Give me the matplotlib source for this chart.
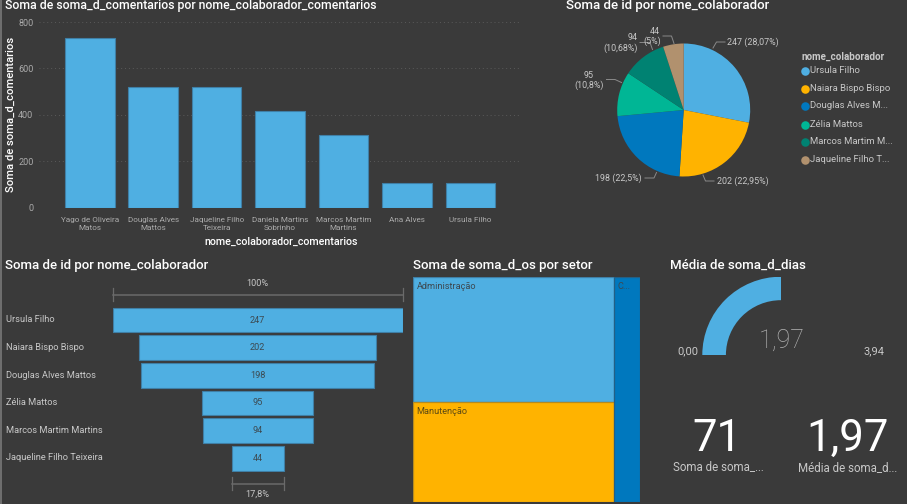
#!/usr/bin/env python3
"""Dashboard escuro: colaboradores, comentarios, setores e dias."""

import matplotlib
matplotlib.use("Agg")
import matplotlib.pyplot as plt
from matplotlib.patches import Rectangle, Wedge

W, H = 907, 504
BG = "#3a3a3a"
BLUE = "#4fafe2"
EDGE = "#3f7fa6"
ORANGE = "#ffb300"
DBLUE = "#0078be"
TEAL = "#00b695"
DTEAL = "#008272"
TAN = "#b1916e"
TXT = "#c8c8c8"
AXT = "#ababab"
LEAD = "#8a8a8a"

# bar chart
coment_names = ["Yago de Oliveira\nMatos", "Douglas Alves\nMattos", "Jaqueline Filho\nTeixeira",
                "Daniela Martins\nSobrinho", "Marcos Martim\nMartins", "Ana Alves", "Ursula Filho"]
coment_values = [729, 520, 520, 415, 312, 104, 104]
coment_ticks = [0, 200, 400, 600, 800]

# pie and funnel
colab_names = ["Ursula Filho", "Naiara Bispo Bispo", "Douglas Alves Mattos",
               "Zélia Mattos", "Marcos Martim Martins", "Jaqueline Filho Teixeira"]
legend_names = ["Ursula Filho", "Naiara Bispo Bispo", "Douglas Alves M...",
                "Zélia Mattos", "Marcos Martim M...", "Jaqueline Filho T..."]
colab_ids = [247, 202, 198, 95, 94, 44]

# treemap
setor_names = ["Administração", "Manutenção", "C..."]
setor_values = [35, 28, 8]

# gauge and cards
gauge_value = 1.97
gauge_max = 3.94
total_os = 71

plt.rcParams["font.family"] = ["Roboto", "DejaVu Sans"]
fig = plt.figure(figsize=(W / 100, H / 100), dpi=100, facecolor=BG)


def px_axes(left, top, right, bottom):
    a = fig.add_axes([left / W, 1 - bottom / H, (right - left) / W, (bottom - top) / H])
    a.set_facecolor("none")
    return a


# overlay in pixel coords for titles, labels and leader lines
ov = px_axes(0, 0, W, H)
ov.set_xlim(0, W)
ov.set_ylim(H, 0)
ov.axis("off")
ov.set_zorder(5)
ov.add_patch(Rectangle((0, 0), 2, H, facecolor="#6e6e6e", edgecolor="none"))

TITLE = dict(color="white", fontsize=9.5, fontweight="medium", va="center", ha="left")
ov.text(5, 5, "Soma de soma_d_comentarios por nome_colaborador_comentarios",
        color="white", fontsize=8.8, fontweight="medium", va="center", ha="left")
ov.text(566, 5.5, "Soma de id por nome_colaborador", **TITLE)
ov.text(5, 265, "Soma de id por nome_colaborador", **TITLE)
ov.text(413, 265, "Soma de soma_d_os por setor", **TITLE)
ov.text(669.5, 265, "Média de soma_d_dias", **TITLE)

# ── Bars ──
ax = px_axes(39, 22, 520, 207.5)
ax.bar(range(len(coment_values)), coment_values, width=0.78, color=BLUE, edgecolor=EDGE, linewidth=0.8)
ax.set_xlim(-0.8, 6.78)
ax.set_ylim(0, 800)
ax.set_yticks(coment_ticks)
ax.set_xticks(range(len(coment_names)), coment_names)
ax.tick_params(length=0, colors=AXT, labelsize=6.5, pad=4)
ax.tick_params(axis="x", pad=6.5, labelsize=5.9)
for lab in ax.get_xticklabels():
    lab.set_linespacing(1.55)
ax.grid(axis="y", color="#5a5a5a", linestyle=(0, (1, 3)), linewidth=0.7)
ax.set_axisbelow(True)
for s in ax.spines.values():
    s.set_visible(False)
ax.set_ylabel("Soma de soma_d_comentarios", color="white", fontsize=8.1, fontweight="medium", va="center")
ax.yaxis.set_label_coords(-0.058, 0.5)
ax.set_xlabel("nome_colaborador_comentarios", color="white", fontsize=7.7, fontweight="medium")
ax.xaxis.set_label_coords(0.503, -0.186)
ax.xaxis.label.set_va("center")

# ── Pie ──
axp = px_axes(683.7 - 66.5, 110 - 66.5, 683.7 + 66.5, 110 + 66.5)
axp.pie(colab_ids, colors=[BLUE, ORANGE, DBLUE, TEAL, DTEAL, TAN], startangle=90, counterclock=False,
        radius=1.0)
axp.set_xlim(-1, 1)
axp.set_ylim(-1, 1)

LBL = dict(color=TXT, fontsize=6.4, va="center")
leaders = [
    [(713, 48), (716.5, 42), (725, 42)],
    [(703, 175), (705.5, 181), (714, 181)],
    [(656.5, 172.5), (654, 178), (645, 178)],
    [(621.5, 82.5), (615, 79.5), (606.5, 79.5)],
    [(652.5, 49.5), (650, 42.5), (640, 42.5)],
    [(674, 43.5), (671.5, 36), (663, 36)],
]
for pts in leaders:
    ov.plot([p[0] for p in pts], [p[1] for p in pts], color=LEAD, linewidth=0.7)
ov.text(727, 42, "247 (28,07%)", ha="left", **LBL)
ov.text(717, 181, "202 (22,95%)", ha="left", **LBL)
ov.text(642, 178, "198 (22,5%)", ha="right", **LBL)
ov.text(589, 75, "95", ha="center", **LBL)
ov.text(589, 85, "(10,8%)", ha="center", **LBL)
ov.text(637.5, 38, "94", ha="right", **LBL)
ov.text(638, 48, "(10,68%)", ha="right", **LBL)
ov.text(660, 31, "44", ha="right", **LBL)
ov.text(661, 41, "(5%)", ha="right", **LBL)

ov.text(801, 57, "nome_colaborador", color=TXT, fontsize=7.1, fontweight="bold", va="center")
legend_y = [70.7, 88.7, 106, 124.7, 141.7, 160]
for name, col, y in zip(legend_names, [BLUE, ORANGE, DBLUE, TEAL, DTEAL, TAN], legend_y):
    ov.scatter([805], [y], s=38, color=col, linewidths=0)
    ov.text(810.5, y, name, color=TXT, fontsize=6.8, va="center")

# ── Funnel ──
axf = px_axes(112.7, 306.2, 402.7, 472.1)
for i, v in enumerate(colab_ids):
    axf.barh(i, v, left=-v / 2, height=0.9, color=BLUE, edgecolor=EDGE, linewidth=0.8)
    axf.text(0, i, str(v), color="#3c4a52", fontsize=6.6, ha="center", va="center")
    ov.text(5.5, 320 + 27.6 * i, colab_names[i], color=TXT, fontsize=6.7, va="center")
axf.set_xlim(-colab_ids[0] / 2, colab_ids[0] / 2)
axf.set_ylim(5.5, -0.5)
axf.axis("off")


def span(x0, x1, y):
    ov.plot([x0, x1], [y, y], color="#6a6a6a", linewidth=1.1)
    for x in (x0, x1):
        ov.plot([x, x], [y - 6.5, y + 6.5], color="#6a6a6a", linewidth=0.9)


half = 145 * colab_ids[-1] / colab_ids[0]
span(112.7, 402.7, 294.7)
span(257.7 - half, 257.7 + half, 483.5)
ov.text(257.7, 283.5, "100%", color=TXT, fontsize=6.6, ha="center", va="center")
pct = 100 * colab_ids[-1] / colab_ids[0]
ov.text(257.7, 494.5, f"{pct:.1f}%".replace(".", ","), color=TXT, fontsize=6.6, ha="center", va="center")

# ── Treemap ──
axt = px_axes(413.3, 276.7, 639.7, 501.7)
total = sum(setor_values)
left_w = (setor_values[0] + setor_values[1]) / total
split = setor_values[0] / (setor_values[0] + setor_values[1])
cells = [(0, 0, left_w, split, BLUE, EDGE), (0, split, left_w, 1 - split, ORANGE, "#b58a20"),
         (left_w, 0, 1 - left_w, 1, DBLUE, "#235f85")]
axt.set_xlim(0, 1)
axt.set_ylim(1, 0)
axt.axis("off")
for (x, y, w, h, col, edge), name in zip(cells, setor_names):
    axt.add_patch(Rectangle((x, y), w, h, facecolor=col, edgecolor=edge, linewidth=0.9))
    axt.text(x + 0.014, y + 0.042, name, color="#3d4850" if col != ORANGE else "#5c4a14",
             fontsize=6.6, va="center", ha="left")

# ── Gauge ──
axg = px_axes(781 - 78.7, 276.7, 781 + 78.7, 355)
axg.set_xlim(-1, 1)
axg.set_ylim(0, 1)
axg.axis("off")
axg.add_patch(Wedge((0, 0), 1, 180 - 180 * gauge_value / gauge_max, 180, width=0.3, facecolor=BLUE,
                    edgecolor="none"))
fmt = lambda v: f"{v:.2f}".replace(".", ",")
ov.text(781.5, 341, fmt(gauge_value), color="#b4b4b4", fontsize=18, ha="center", va="center",
        fontweight="light")
ov.text(698, 351, "0,00", color=TXT, fontsize=8, ha="right", va="center")
ov.text(874, 351, fmt(gauge_max), color=TXT, fontsize=8, ha="center", va="center")

# ── Cards ──
ov.text(716.5, 439, str(total_os), color="white", fontsize=31.5, ha="center", va="center")
ov.text(848, 439, fmt(gauge_value), color="white", fontsize=31.5, ha="center", va="center")
ov.text(718, 467, "Soma de soma_...", color=TXT, fontsize=8.3, ha="center", va="center")
ov.text(848, 468, "Média de soma_d...", color=TXT, fontsize=8.3, ha="center", va="center")

fig.savefig("out.png", dpi=100, facecolor=BG)
